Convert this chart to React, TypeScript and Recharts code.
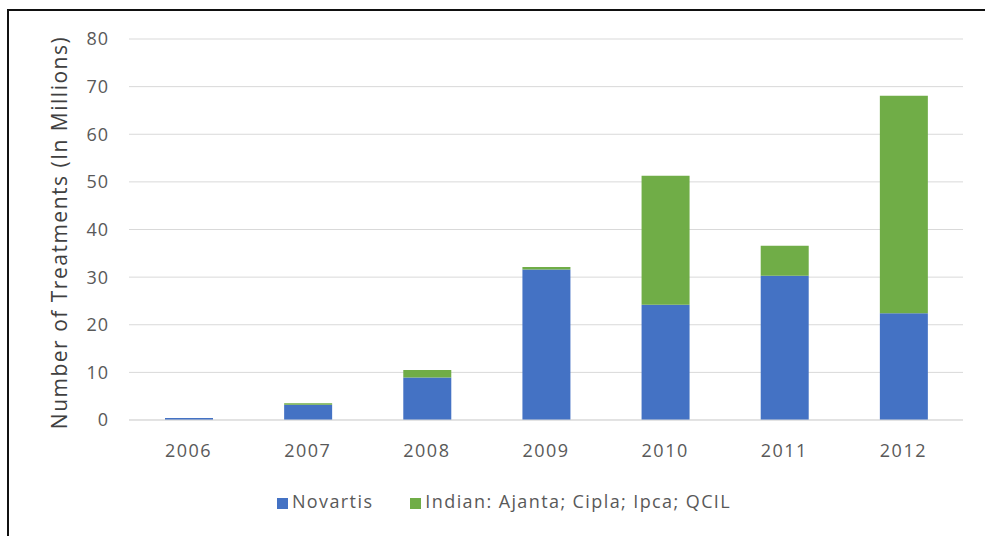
import React from 'react';
import { BarChart, Bar, XAxis, YAxis, CartesianGrid, Legend } from 'recharts';

const years = ['2006', '2007', '2008', '2009', '2010', '2011', '2012'];
const novartis = [0.4, 3.2, 8.9, 31.6, 24.2, 30.3, 22.4];
const indian = [0.0, 0.3, 1.6, 0.5, 27.1, 6.3, 45.7];
const yTicks = [0, 10, 20, 30, 40, 50, 60, 70, 80];
const seriesOrder = ['Novartis', 'Indian: Ajanta; Cipla; Ipca; QCIL'];

const data = years.map((year, i) => ({
    year,
    novartis: novartis[i],
    indian: indian[i]
}));

const FONT = '"Open Sans", "Noto Sans", sans-serif';
const TEXT = '#595959';

const App: React.FC = () => {
    return (
        <div
            style={{
                position: 'fixed',
                top: 9,
                left: 7,
                width: 976,
                height: 525,
                borderTop: '2px solid #111',
                borderLeft: '2px solid #111',
                background: '#fff',
                fontFamily: FONT,
                overflow: 'hidden'
            }}
        >
            <BarChart
                width={976}
                height={525}
                data={data}
                margin={{ top: 28, right: 22, bottom: 23, left: 0 }}
            >
                <CartesianGrid vertical={false} stroke="#d9d9d9" />
                <XAxis
                    dataKey="year"
                    axisLine={{ stroke: '#d9d9d9' }}
                    tickLine={false}
                    tickSize={0}
                    tickMargin={24}
                    height={69}
                    tick={{ fill: TEXT, fontSize: 18, fontFamily: FONT, letterSpacing: 1.5 }}
                />
                <YAxis
                    domain={[0, 80]}
                    ticks={yTicks}
                    axisLine={false}
                    tickLine={false}
                    tickSize={0}
                    tickMargin={20}
                    width={120}
                    tick={{ fill: TEXT, fontSize: 18, fontFamily: FONT, letterSpacing: 1 }}
                    label={{
                        value: 'Number of Treatments (In Millions)',
                        angle: -90,
                        position: 'insideLeft',
                        offset: 51,
                        dy: 3,
                        style: {
                            textAnchor: 'middle',
                            fill: '#404040',
                            fontSize: 21,
                            fontFamily: FONT,
                            letterSpacing: 1.5
                        }
                    }}
                />
                <Legend
                    verticalAlign="bottom"
                    iconType="square"
                    iconSize={11}
                    itemSorter={(item: { value?: string }) => seriesOrder.indexOf(item.value ?? '')}
                    wrapperStyle={{ fontSize: 18, fontFamily: FONT, left: 25, width: 950 }}
                    formatter={(value: string) => (
                        <span
                            style={{
                                color: TEXT,
                                letterSpacing: 1.4,
                                marginRight: value === seriesOrder[0] ? 27 : 0
                            }}
                        >
                            {value}
                        </span>
                    )}
                />
                <Bar
                    dataKey="novartis"
                    name={seriesOrder[0]}
                    stackId="a"
                    fill="#4472c4"
                    barSize={48}
                    isAnimationActive={false}
                />
                <Bar
                    dataKey="indian"
                    name={seriesOrder[1]}
                    stackId="a"
                    fill="#70ad47"
                    barSize={48}
                    isAnimationActive={false}
                />
            </BarChart>
        </div>
    );
};

export default App;
